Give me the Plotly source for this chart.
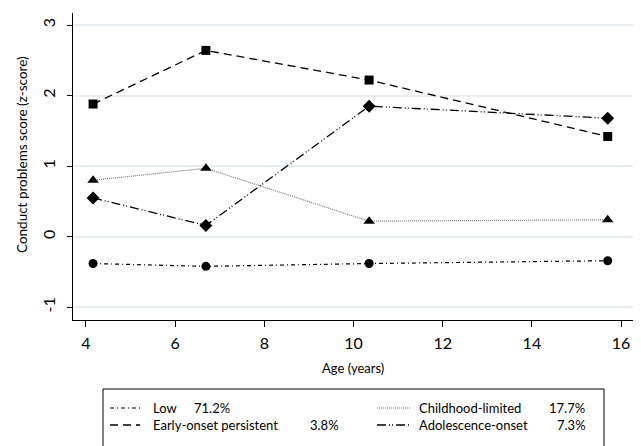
import plotly.graph_objects as go

# ---- data ----
ages = [4.16, 6.69, 10.35, 15.70]
low = [-0.38, -0.42, -0.38, -0.34]
early_onset = [1.88, 2.64, 2.22, 1.42]
childhood_limited = [0.80, 0.97, 0.22, 0.24]
adolescence_onset = [0.55, 0.16, 1.85, 1.68]

group_names = ["Low", "Childhood-limited", "Early-onset persistent", "Adolescence-onset"]
group_pcts = ["71.2%", "17.7%", "3.8%", "7.3%"]

x_ticks = [4, 6, 8, 10, 12, 14, 16]
y_ticks = [-1, 0, 1, 2, 3]

FONT = "Lato, Carlito, 'Liberation Sans', sans-serif"

styles = {
    "Low": dict(dash="4px,3px,1px,3px", color="black", width=1.2, symbol="circle", size=9),
    "Childhood-limited": dict(dash="1px,1px", color="#777777", width=1.2, symbol="triangle-up", size=10),
    "Early-onset persistent": dict(dash="8px,5px", color="black", width=1.3, symbol="square", size=9),
    "Adolescence-onset": dict(dash="9px,3px,1px,2px,1px,3px", color="black", width=1.3, symbol="diamond", size=10),
}
series = {
    "Low": low,
    "Childhood-limited": childhood_limited,
    "Early-onset persistent": early_onset,
    "Adolescence-onset": adolescence_onset,
}

fig = go.Figure()
for name in ["Childhood-limited", "Low", "Adolescence-onset", "Early-onset persistent"]:
    s = styles[name]
    fig.add_trace(go.Scatter(
        x=ages, y=series[name], mode="lines+markers", name=name,
        line=dict(color=s["color"], width=s["width"], dash=s["dash"]),
        marker=dict(symbol=s["symbol"], size=s["size"], color="black", line=dict(width=0)),
        showlegend=False, hoverinfo="skip",
    ))

# ---- layout geometry (page pixels; page body has an 8px offset) ----
OFF = 8
L, R, T, B = 73, 634, 13, 320
W, H = 641 - OFF, 446 - OFF

def px(xp):
    return (xp - L) / (R - L)

def py(yp):
    return (B - yp) / (B - T)

shapes = []
annotations = []

# axis titles
annotations.append(dict(xref="paper", yref="paper", x=px(353), y=py(368),
                        text="Age (years)", showarrow=False, xanchor="center", yanchor="middle",
                        font=dict(family=FONT, size=13, color="black")))
annotations.append(dict(xref="paper", yref="paper", x=px(22), y=py(155),
                        text="Conduct problems score (z-score)", showarrow=False, textangle=-90,
                        xanchor="center", yanchor="middle",
                        font=dict(family=FONT, size=13.5, color="black")))

# manual legend box
shapes.append(dict(type="rect", xref="paper", yref="paper",
                   x0=px(103), x1=px(604), y0=py(470), y1=py(389),
                   line=dict(color="black", width=1), fillcolor="rgba(0,0,0,0)"))

legend_layout = [
    # name, row y, sample x0, x1, text x, pct right x
    ("Low", 408, 110, 140, 151, 232),
    ("Childhood-limited", 408, 377, 410, 417, 587),
    ("Early-onset persistent", 425, 110, 140, 151, 341),
    ("Adolescence-onset", 425, 377, 410, 417, 588),
]
for name, ry, sx0, sx1, tx, pr in legend_layout:
    s = styles[name]
    idx = group_names.index(name)
    shapes.append(dict(type="line", xref="paper", yref="paper",
                       x0=px(sx0), x1=px(sx1), y0=py(ry), y1=py(ry),
                       line=dict(color=s["color"], width=s["width"], dash=s["dash"])))
    annotations.append(dict(xref="paper", yref="paper", x=px(tx), y=py(ry),
                            text=name, showarrow=False, xanchor="left", yanchor="middle",
                            font=dict(family=FONT, size=13, color="black")))
    annotations.append(dict(xref="paper", yref="paper", x=px(pr), y=py(ry),
                            text=group_pcts[idx], showarrow=False, xanchor="right", yanchor="middle",
                            font=dict(family=FONT, size=13, color="black")))

fig.update_layout(
    width=W, height=H,
    margin=dict(l=L - OFF, r=641 - R, t=T - OFF, b=446 - B, autoexpand=False),
    paper_bgcolor="white", plot_bgcolor="white",
    font=dict(family=FONT, color="black"),
    shapes=shapes, annotations=annotations,
    showlegend=False,
)
fig.update_xaxes(
    range=[3.71, 16.29], tickvals=x_ticks, ticktext=[str(v) for v in x_ticks],
    showline=True, linecolor="black", linewidth=1,
    ticks="outside", ticklen=6, tickcolor="black", tickwidth=1,
    showgrid=False, zeroline=False, automargin=False,
    ticklabelstandoff=3,
    tickfont=dict(family=FONT, size=16),
)
fig.update_yaxes(
    range=[-1.18, 3.17], tickvals=y_ticks, ticktext=[str(v) for v in y_ticks],
    showline=True, linecolor="black", linewidth=1,
    ticks="outside", ticklen=5, tickcolor="black", tickwidth=1,
    showgrid=True, gridcolor="#e6eef2", gridwidth=1.5, zeroline=False, automargin=False,
    tickangle=-90, ticklabelstandoff=6,
    tickfont=dict(family=FONT, size=16),
)

fig.write_html("out.html")
